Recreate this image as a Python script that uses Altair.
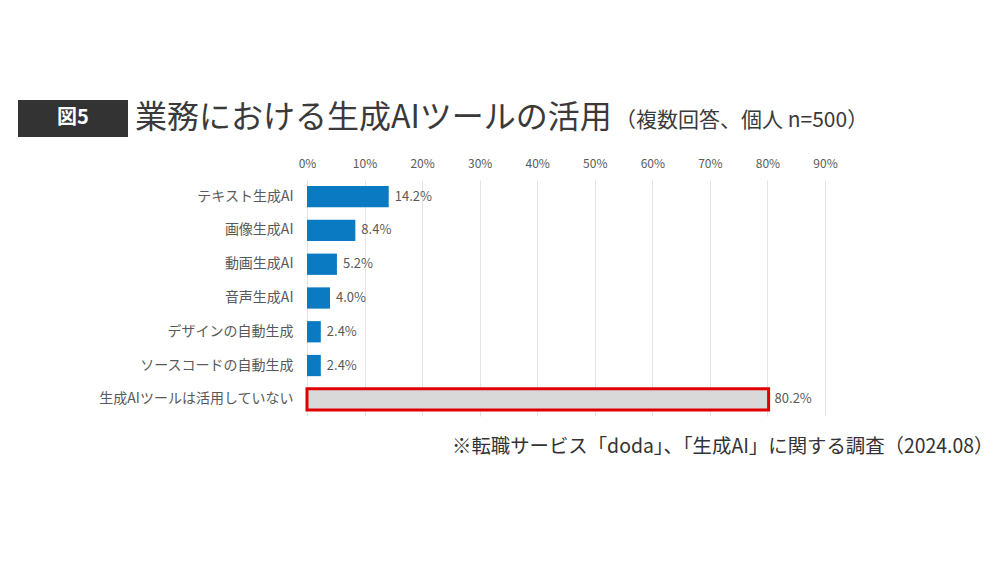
import altair as alt
import pandas as pd

categories = ["テキスト生成AI", "画像生成AI", "動画生成AI", "音声生成AI",
              "デザインの自動生成", "ソースコードの自動生成", "生成AIツールは活用していない"]
values = [14.2, 8.4, 5.2, 4.0, 2.4, 2.4, 80.2]
tick_values = [0, 10, 20, 30, 40, 50, 60, 70, 80, 90]
title_tag = "図5"
title_main = "業務における生成AIツールの活用"
title_sub = "（複数回答、個人 n=500）"
source_note = "※転職サービス「doda」、「生成AI」に関する調査（2024.08）"

FONT = "Noto Sans CJK JP"
W, H = 518, 236

df = pd.DataFrame({"category": categories, "value": values})
df["label"] = df["value"].map(lambda v: f"{v:.1f}%")

is_none = alt.datum.category == categories[-1]

x = alt.X("value:Q", scale=alt.Scale(domain=[0, 90], nice=False),
          axis=alt.Axis(orient="top", values=tick_values, labelExpr="datum.value + '%'",
                        title=None, ticks=False, domain=False, grid=True, labelFlush=False,
                        gridColor="#e4e4e4", gridWidth=1, labelPadding=10,
                        labelFontSize=12, labelColor="#595959", labelFont=FONT))
y = alt.Y("category:N", sort=categories,
          scale=alt.Scale(paddingInner=0.37, paddingOuter=0.18),
          axis=alt.Axis(title=None, ticks=False, domain=False, labelPadding=14, labelLimit=400,
                        labelFontSize=14, labelColor="#595959", labelFont=FONT))

base = alt.Chart(df)
bars = base.mark_bar(strokeWidth=3).encode(
    x=x, y=y,
    color=alt.condition(is_none, alt.value("#d9d9d9"), alt.value("#0a7bc2")),
    stroke=alt.condition(is_none, alt.value("#e00000"), alt.value("transparent")),
)
labels = base.mark_text(align="left", dx=6, fontSize=13, color="#595959", font=FONT).encode(
    x="value:Q", y=alt.Y("category:N", sort=categories), text="label:N")

tag_box = alt.Chart(pd.DataFrame({"t": [title_tag]})).mark_rect(color="#333333").encode(
    x=alt.value(-289), x2=alt.value(-179), y=alt.value(-80), y2=alt.value(-43))
tag_text = alt.Chart(pd.DataFrame({"t": [title_tag]})).mark_text(
    color="white", fontSize=20, fontWeight="bold", font=FONT, align="center", baseline="middle").encode(
    x=alt.value(-234), y=alt.value(-62), text="t:N")
main_text = alt.Chart(pd.DataFrame({"t": [title_main]})).mark_text(
    color="#3a3a3a", fontSize=32, font=FONT, align="left", baseline="middle").encode(
    x=alt.value(-172), y=alt.value(-62), text="t:N")
sub_text = alt.Chart(pd.DataFrame({"t": [title_sub]})).mark_text(
    color="#3a3a3a", fontSize=21, font=FONT, align="left", baseline="middle").encode(
    x=alt.value(308), y=alt.value(-59), text="t:N")
note_text = alt.Chart(pd.DataFrame({"t": [source_note]})).mark_text(
    color="#333333", fontSize=19.4, font=FONT, align="left", baseline="middle").encode(
    x=alt.value(145), y=alt.value(267), text="t:N")

chart = alt.layer(bars, labels, tag_box, tag_text, main_text, sub_text, note_text).properties(
    width=W, height=H,
    autosize=alt.AutoSizeParams(type="none"),
    padding={"left": 299, "top": 172, "right": 167, "bottom": 130},
    background="white",
).configure_view(stroke=None)

chart.save("out.html", embed_options={"renderer": "svg", "actions": False})
